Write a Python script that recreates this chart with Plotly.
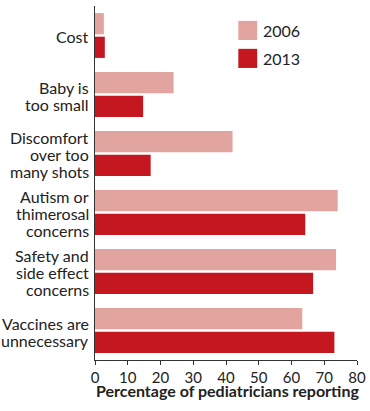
import plotly.graph_objects as go

categories = [
    "Cost",
    "Baby is<br>too small",
    "Discomfort<br>over too<br>many shots",
    "Autism or<br>thimerosal<br>concerns",
    "Safety and<br>side effect<br>concerns",
    "Vaccines are<br>unnecessary",
]
values_2006 = [2.7, 24, 42, 74.1, 73.6, 63.3]
values_2013 = [3.0, 14.7, 17, 64.2, 66.6, 73.1]
series_names = ["2006", "2013"]
colors = ["#E2A49E", "#C5171F"]
x_ticks = [0, 10, 20, 30, 40, 50, 60, 70, 80]
x_title = "Percentage of pediatricians reporting"

FONT = "Lato"
TEXT = "#222222"
LABEL_SIZE = 16
LINE_STEP = 17

fig = go.Figure()
for name, vals, col in zip(series_names, [values_2006, values_2013], colors):
    fig.add_trace(go.Bar(
        y=categories, x=vals, name=name, orientation="h",
        marker=dict(color=col, line=dict(width=0)),
        showlegend=False,
    ))

# category labels with tight line spacing (one annotation per line)
for cat in categories:
    lines = cat.split("<br>")
    n = len(lines)
    for i, ln in enumerate(lines):
        fig.add_annotation(
            xref="paper", yref="y", x=0, y=cat, text=ln, showarrow=False,
            xanchor="right", yanchor="middle", xshift=-4,
            yshift=((n - 1) / 2 - i) * LINE_STEP - 1,
            font=dict(family=FONT, size=LABEL_SIZE, color=TEXT),
        )

# legend drawn manually with larger swatches
legend_y = [0.931, 0.852]
for name, col, ly in zip(series_names, colors, legend_y):
    fig.add_shape(type="rect", xref="paper", yref="paper",
                  x0=0.547, x1=0.619, y0=ly - 0.027, y1=ly + 0.027,
                  fillcolor=col, line=dict(width=0))
    fig.add_annotation(xref="paper", yref="paper", x=0.632, y=ly,
                       text=name, showarrow=False, xanchor="left", yanchor="middle",
                       font=dict(family=FONT, size=LABEL_SIZE, color=TEXT))

# x-axis title
fig.add_annotation(xref="paper", yref="paper", x=0.505, y=0, yshift=-30,
                   text="<b>" + x_title + "</b>", showarrow=False,
                   xanchor="center", yanchor="middle",
                   font=dict(family=FONT, size=16, color=TEXT))

fig.update_layout(
    width=370, height=411,
    margin=dict(l=95, r=13, t=6, b=51, autoexpand=False),
    barmode="group",
    bargap=0.2,
    bargroupgap=0.1,
    plot_bgcolor="white",
    paper_bgcolor="white",
    font=dict(family=FONT, size=14, color=TEXT),
)
fig.update_yaxes(
    categoryorder="array", categoryarray=categories,
    autorange="reversed", automargin=False,
    showline=True, linecolor="#333333", linewidth=1.3,
    ticks="", showgrid=False, zeroline=False,
    showticklabels=False,
)
fig.update_xaxes(
    range=[0, 80], tickvals=x_ticks, automargin=False,
    showline=True, linecolor="#333333", linewidth=1.3,
    ticks="outside", ticklen=4, tickcolor="#333333", tickwidth=1,
    showgrid=False, zeroline=False,
    tickfont=dict(family=FONT, size=15, color=TEXT),
)

fig.write_html(
    "out.html",
    config={"displayModeBar": False},
    post_script="document.body.style.margin='0';document.body.style.overflow='hidden';",
)
